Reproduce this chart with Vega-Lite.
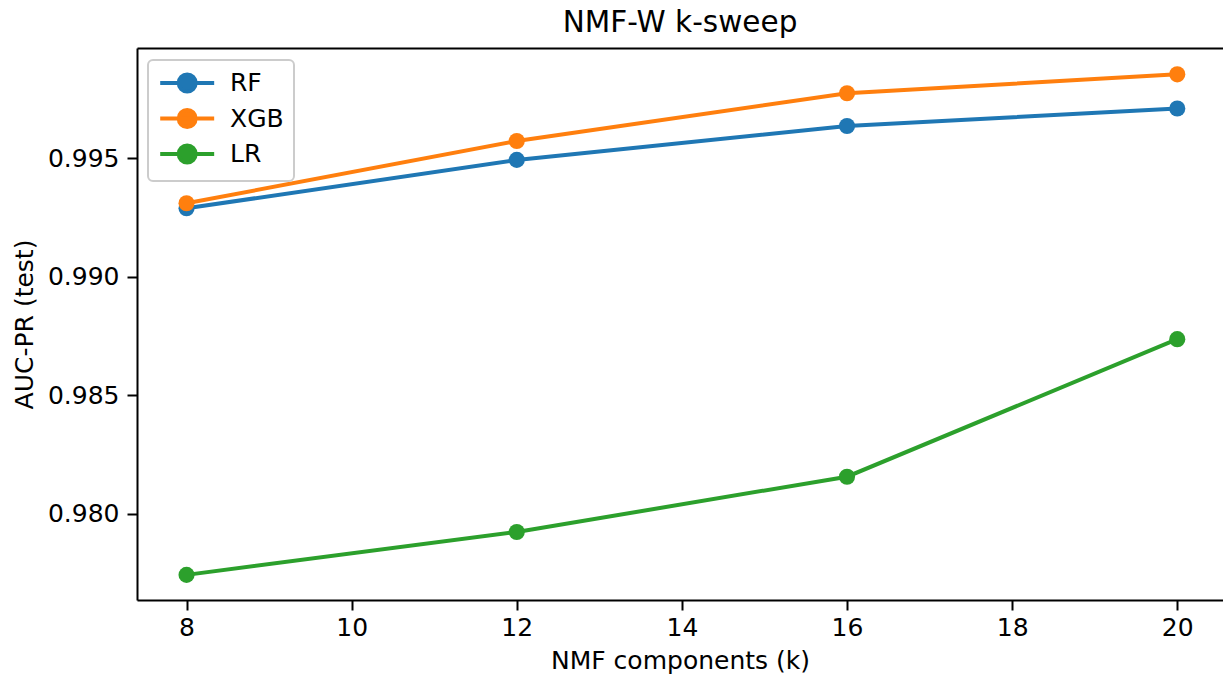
{
  "$schema": "https://vega.github.io/schema/vega-lite/v6.json",
  "autosize": "none",
  "width": 1086,
  "height": 552,
  "padding": {"left": 137, "top": 48, "right": 0, "bottom": 77},
  "background": "white",
  "config": {
    "font": "DejaVu Sans",
    "view": {"stroke": null},
    "axis": {"grid": false, "domainColor": "black", "domainWidth": 2, "tickColor": "black", "tickWidth": 2, "tickSize": 10, "labelColor": "black", "titleColor": "black", "labelFont": "DejaVu Sans", "titleFont": "DejaVu Sans", "labelFontSize": 25, "titleFontSize": 25, "titleFontWeight": "normal"}
  },
  "title": {"text": "NMF-W k-sweep", "fontSize": 29.5, "fontWeight": "normal", "font": "DejaVu Sans", "color": "black", "anchor": "middle", "baseline": "alphabetic", "offset": -13},
  "data": {"values": [
    {"model": "RF", "k": 8, "auc": 0.99289},
    {"model": "RF", "k": 12, "auc": 0.99493},
    {"model": "RF", "k": 16, "auc": 0.99636},
    {"model": "RF", "k": 20, "auc": 0.99710},
    {"model": "XGB", "k": 8, "auc": 0.99310},
    {"model": "XGB", "k": 12, "auc": 0.99573},
    {"model": "XGB", "k": 16, "auc": 0.99774},
    {"model": "XGB", "k": 20, "auc": 0.99854},
    {"model": "LR", "k": 8, "auc": 0.97743},
    {"model": "LR", "k": 12, "auc": 0.97924},
    {"model": "LR", "k": 16, "auc": 0.98157},
    {"model": "LR", "k": 20, "auc": 0.98737}
  ]},
  "encoding": {
    "y": {"field": "auc", "type": "quantitative", "scale": {"domain": [0.97637, 0.99965], "zero": false, "nice": false},
      "axis": {"values": [0.980, 0.985, 0.990, 0.995], "format": ".3f", "title": "AUC-PR (test)", "labelPadding": 8, "titlePadding": 10}},
    "color": {"field": "model", "type": "nominal", "scale": {"domain": ["RF", "XGB", "LR"], "range": ["#1f77b4", "#ff7f0e", "#2ca02c"]},
      "legend": {"title": null, "orient": "none", "legendX": 11, "legendY": 12, "symbolType": "M-1,0H4M0.713,0A0.787,0.787 0 1,1 2.287,0A0.787,0.787 0 1,1 0.713,0Z", "symbolSize": 466, "symbolStrokeWidth": 4, "labelFontSize": 25, "labelFont": "DejaVu Sans", "labelColor": "black", "labelOffset": 46, "rowPadding": 1.5, "padding": 10, "strokeColor": "#cccccc", "fillColor": "rgba(255,255,255,0.8)", "cornerRadius": 5,
        "encode": {"legend": {"update": {"strokeWidth": {"value": 2}}}, "symbols": {"update": {"fillOpacity": {"value": 1}}}}}}
  },
  "layer": [
    {
      "mark": {"type": "line", "strokeWidth": 4},
      "encoding": {
        "x": {"field": "k", "type": "quantitative", "scale": {"domain": [7.4, 20.554], "zero": false, "nice": false},
          "axis": {"values": [8, 10, 12, 14, 16, 18, 20], "title": "NMF components (k)", "labelPadding": 5, "titlePadding": 8}}
      }
    },
    {
      "mark": {"type": "point", "filled": true, "opacity": 1, "size": 260},
      "encoding": {
        "x": {"field": "k", "type": "quantitative", "scale": {"domain": [7.4, 20.554], "zero": false, "nice": false},
          "axis": {"orient": "top", "labels": false, "ticks": false, "title": null, "domain": true}}
      }
    }
  ],
  "resolve": {"axis": {"x": "independent"}}
}
